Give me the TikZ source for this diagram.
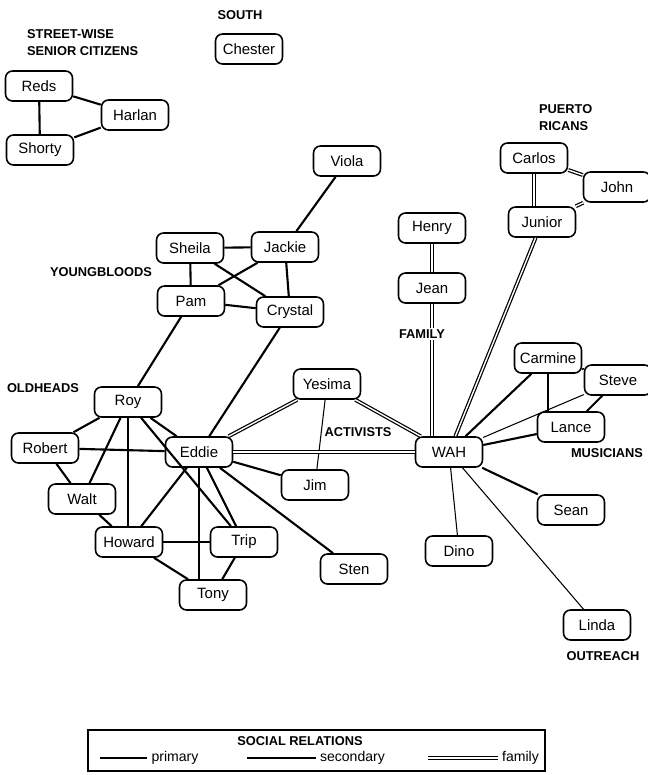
\documentclass[tikz,border=0pt]{standalone}
\usepackage{fontspec}
\setmainfont{Liberation Sans}
\usetikzlibrary{positioning}

\tikzset{
	person/.style={draw, rounded corners=4pt, line width=0.9pt, fill=white,
		minimum width=1.34cm, minimum height=0.6cm, inner sep=1pt,
		font=\fontsize{8.5}{10}\selectfont},
	group/.style={font=\fontsize{7.3}{9.6}\selectfont\bfseries, inner sep=1pt},
	keytext/.style={right=1pt, inner sep=1pt, font=\fontsize{8}{10}\selectfont},
	primary/.style={line width=1.2pt},
	secondary/.style={line width=0.6pt},
	family/.style={double, double distance=0.8pt, line width=0.7pt},
}

\begin{document}
\begin{tikzpicture}[x=0.02cm, y=-0.02cm]
	\useasboundingbox (0,0) rectangle (648,775);

	\node[person] (Reds)	at (39,86)		{Reds};
	\node[person] (Harlan)	at (135,115)	{Harlan};
	\node[person] (Shorty)	at (40,150)		{Shorty};
	\node[person] (Chester)	at (249,49)		{Chester};
	\node[person] (Viola)	at (347,161)	{Viola};
	\node[person] (Carlos)	at (534,158)	{Carlos};
	\node[person] (John)	at (617,187)	{John};
	\node[person] (Junior)	at (542,222)	{Junior};
	\node[person] (Henry)	at (432,228)	{Henry};
	\node[person] (Jean)	at (432,288)	{Jean};
	\node[person] (Sheila)	at (190,248)	{Sheila};
	\node[person] (Jackie)	at (285,247)	{Jackie};
	\node[person] (Pam)		at (191,301)	{Pam};
	\node[person] (Crystal)	at (290,312)	{Crystal};
	\node[person] (Carmine)	at (548,358)	{Carmine};
	\node[person] (Steve)	at (618,380)	{Steve};
	\node[person] (Lance)	at (571,427)	{Lance};
	\node[person] (Yesima)	at (327,384)	{Yesima};
	\node[person] (Roy)		at (128,402)	{Roy};
	\node[person] (Robert)	at (45,448)		{Robert};
	\node[person] (Eddie)	at (199,452)	{Eddie};
	\node[person] (WAH)		at (449,452)	{WAH};
	\node[person] (Jim)		at (315,485)	{Jim};
	\node[person] (Walt)	at (82,499)		{Walt};
	\node[person] (Sean)	at (571,510)	{Sean};
	\node[person] (Howard)	at (129,542)	{Howard};
	\node[person] (Trip)	at (244,542)	{Trip};
	\node[person] (Dino)	at (459,551)	{Dino};
	\node[person] (Sten)	at (354,569)	{Sten};
	\node[person] (Tony)	at (213,595)	{Tony};
	\node[person] (Linda)	at (597,625)	{Linda};

	\draw[primary]		(Reds) -- (Harlan);
	\draw[primary]		(Reds) -- (Shorty);
	\draw[primary]		(Shorty) -- (Harlan);

	\draw[primary]		(Viola) -- (Jackie);
	\draw[primary]		(Sheila) -- (Jackie);
	\draw[primary]		(Sheila) -- (Pam);
	\draw[primary]		(Sheila) -- (Crystal);
	\draw[primary]		(Jackie) -- (Pam);
	\draw[primary]		(Jackie) -- (Crystal);
	\draw[primary]		(Pam) -- (Crystal);
	\draw[primary]		(Pam) -- (Roy);
	\draw[primary]		(Crystal) -- (Eddie);

	\draw[family]		(Carlos) -- (Carlos |- Junior.north);
	\draw[family]		(Carlos) -- (John);
	\draw[family]		(John) -- (Junior);
	\draw[family]		(Junior) -- (WAH);
	\draw[family]		(Henry) -- (Jean);
	\draw[family]		(Jean) -- (Jean |- WAH.north);

	\draw[primary]		(Carmine) -- (WAH);
	\draw[secondary]	(Carmine) -- (Carmine |- Lance.north);
	\draw[primary]		(Carmine) -- (Steve);
	\draw[secondary]	(Steve) -- (WAH);
	\draw[primary]		(Steve) -- (Lance);
	\draw[primary]		(Lance) -- (WAH);

	\draw[family]		(Yesima) -- (WAH);
	\draw[family]		(Yesima) -- (Eddie);
	\draw[secondary]	(Yesima) -- (Jim);
	\draw[family]		(Eddie) -- (WAH);
	\draw[primary]		(WAH) -- (Sean);
	\draw[secondary]	(WAH) -- (Dino);
	\draw[secondary]	(WAH) -- (Linda);

	\draw[primary]		(Eddie) -- (Jim);
	\draw[primary]		(Eddie) -- (Sten);
	\draw[primary]		(Eddie) -- (Trip);
	\draw[primary]		(Eddie) -- (Eddie |- Tony.north);
	\draw[primary]		(Eddie) -- (Howard);
	\draw[primary]		(Roy) -- (Eddie);
	\draw[primary]		(Robert) -- (Eddie);
	\draw[primary]		(Robert) -- (Roy);
	\draw[primary]		(Robert) -- (Walt);
	\draw[primary]		(Roy) -- (Walt);
	\draw[primary]		(Roy) -- (Roy |- Howard.north);
	\draw[primary]		(Roy) -- (Trip);
	\draw[primary]		(Walt) -- (Howard);
	\draw[secondary]	(Howard) -- (Trip);
	\draw[primary]		(Howard) -- (Tony);
	\draw[primary]		(Trip) -- (Tony);

	\node[group, align=left, anchor=west] (seniors) at (25,43) {STREET-WISE\\SENIOR CITIZENS};
	\node[group] (south)		at (240,15)		{SOUTH};
	\node[group, align=left, anchor=west] (puerto) at (537,118) {PUERTO\\RICANS};
	\node[group, fill=white] (familylbl) at (422,334) {FAMILY};
	\node[group] (youngbloods)	at (101,272)	{YOUNGBLOODS};
	\node[group] (oldheads)		at (43,388)		{OLDHEADS};
	\node[group] (activists)	at (358,432)	{ACTIVISTS};
	\node[group] (musicians)	at (607,453)	{MUSICIANS};
	\node[group] (outreach)		at (603,656)	{OUTREACH};

	\draw[line width=0.9pt] (88,730) rectangle (545,771);
	\node[group] (legend) at (300,741) {SOCIAL RELATIONS};
	\coordinate (p1) at (100,758);
	\coordinate (p2) at (147,758);
	\coordinate (s1) at (247,758);
	\coordinate (s2) at (316,758);
	\coordinate (f1) at (428,758);
	\coordinate (f2) at (498,758);
	\draw[primary]		(p1) -- (p2) node[keytext] {primary};
	\draw[secondary]	(s1) -- (s2) node[keytext] {secondary};
	\draw[family]		(f1) -- (f2) node[keytext] {family};
\end{tikzpicture}
\end{document}
